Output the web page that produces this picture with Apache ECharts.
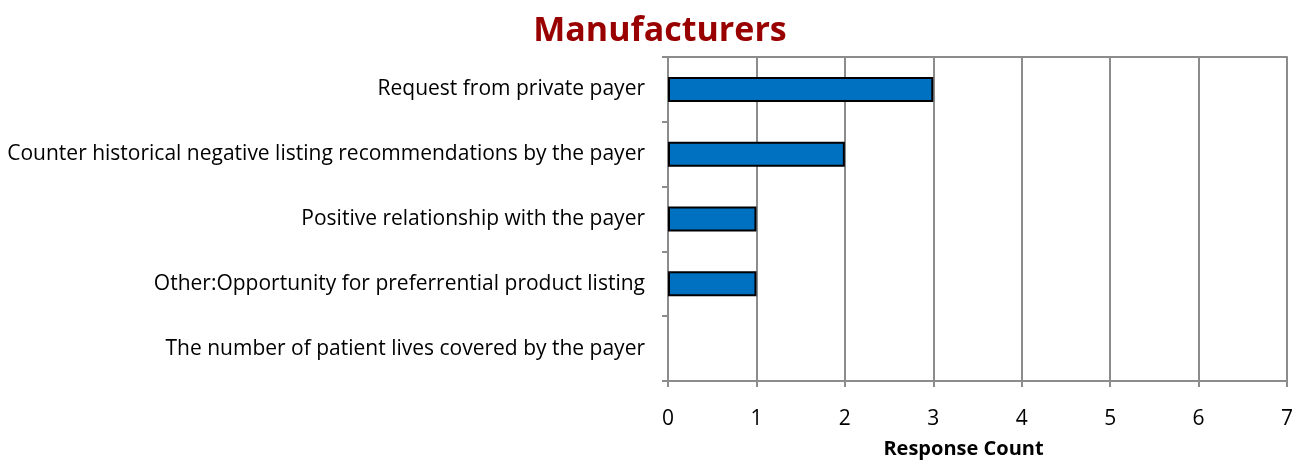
<!DOCTYPE html>
<html>
<head>
<meta charset="utf-8">
<script src="https://cdn.jsdelivr.net/npm/echarts@6/dist/echarts.min.js"></script>
<style>
  html, body { margin: 0; padding: 0; background: #fff; }
  #chart { width: 1296px; height: 461px; }
</style>
</head>
<body>
<div id="chart"></div>
<script>
// Reasons given by manufacturers, with the number of responses for each
const categories = [
  'Request from private payer',
  'Counter historical negative listing recommendations by the payer',
  'Positive relationship with the payer',
  'Other:Opportunity for preferrential product listing',
  'The number of patient lives covered by the payer'
];
const responseCounts = [3, 2, 1, 1, 0];
const xTicks = [0, 1, 2, 3, 4, 5, 6, 7];

const FONT = '"Open Sans"';
const GRID = '#8c8c8c';
const chart = echarts.init(document.getElementById('chart'), null, { renderer: 'canvas' });

// a bar with no responses gets no outline either
const barData = responseCounts.map(v => ({
  value: v,
  itemStyle: v === 0 ? { borderWidth: 0 } : {}
}));

chart.setOption({
  animation: false,
  title: {
    text: 'Manufacturers',
    left: 655,
    top: 9,
    textAlign: 'center',
    textStyle: { fontFamily: FONT, fontSize: 34, fontWeight: 'bold', color: '#990000' }
  },
  grid: { left: 668, right: 9, top: 57, bottom: 80, containLabel: false, outerBoundsMode: 'none', show: false },
  xAxis: [{
    type: 'value',
    min: xTicks[0],
    max: xTicks[xTicks.length - 1],
    interval: 1,
    name: 'Response Count',
    nameLocation: 'middle',
    nameGap: 58,
    nameTextStyle: { fontFamily: FONT, fontSize: 20, fontWeight: 'bold', color: '#000', padding: [0, 28, 0, 0] },
    axisLine: { show: true, lineStyle: { color: GRID, width: 2 } },
    axisTick: { show: true, length: 6, lineStyle: { color: GRID, width: 2 } },
    axisLabel: { fontFamily: FONT, fontSize: 21, color: '#000', margin: 28 },
    splitLine: { show: true, lineStyle: { color: GRID, width: 2 } }
  }, {
    // top edge of the plot frame
    type: 'value',
    position: 'top',
    min: xTicks[0],
    max: xTicks[xTicks.length - 1],
    interval: 1,
    axisLine: { show: true, lineStyle: { color: GRID, width: 2 } },
    axisTick: { show: false },
    axisLabel: { show: false },
    splitLine: { show: false }
  }],
  yAxis: [{
    type: 'category',
    data: categories,
    inverse: true,
    axisLine: { show: true, lineStyle: { color: GRID, width: 2 } },
    axisTick: { show: true, length: 6, lineStyle: { color: GRID, width: 2 } },
    axisLabel: { fontFamily: FONT, fontSize: 21, color: '#000', margin: 23, padding: [4, 0, 0, 0] },
    splitLine: { show: false }
  }, {
    // right edge of the plot frame
    type: 'category',
    data: categories,
    inverse: true,
    position: 'right',
    axisLine: { show: true, lineStyle: { color: GRID, width: 2 } },
    axisTick: { show: false },
    axisLabel: { show: false },
    splitLine: { show: false }
  }],
  series: [{
    type: 'bar',
    xAxisIndex: 0,
    yAxisIndex: 0,
    data: barData,
    barWidth: 25,
    itemStyle: { color: '#0070C0', borderColor: '#000', borderWidth: 2 }
  }]
});
</script>
</body>
</html>
